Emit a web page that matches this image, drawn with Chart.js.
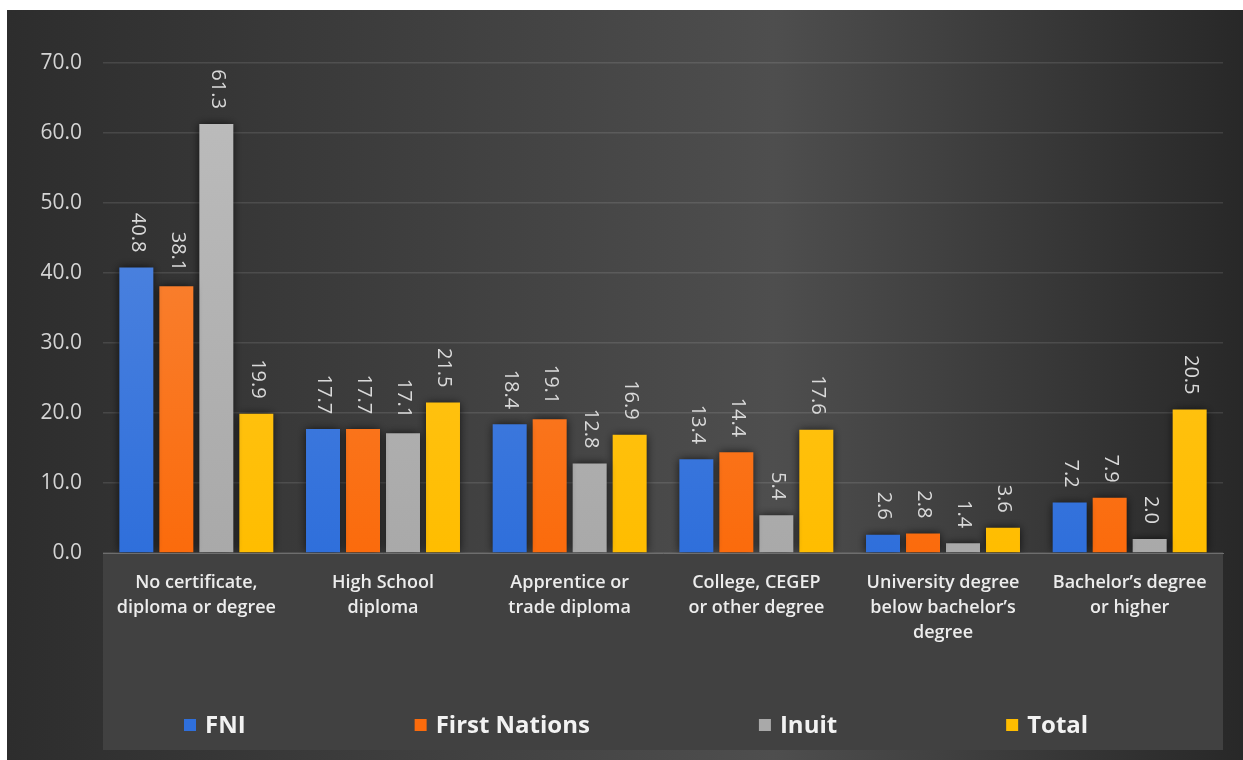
<!DOCTYPE html>
<html>
<head>
<meta charset="utf-8">
<script src="https://cdn.jsdelivr.net/npm/chart.js@4.4.0/dist/chart.umd.min.js"></script>
<style>
  html, body { margin: 0; padding: 0; background: #ffffff; }
  #wrap { position: absolute; left: 7px; top: 10px; width: 1236px; height: 750px; }
</style>
</head>
<body>
<div id="wrap"><canvas id="myChart"></canvas></div>
<script>
const categories = [
    ['No certificate,', 'diploma or degree'],
    ['High School', 'diploma'],
    ['Apprentice or', 'trade diploma'],
    ['College, CEGEP', 'or other degree'],
    ['University degree', 'below bachelor\u2019s', 'degree'],
    ['Bachelor\u2019s degree', 'or higher']
]
const seriesNames = ['FNI', 'First Nations', 'Inuit', 'Total']
const fniValues = [40.8, 17.7, 18.4, 13.4, 2.6, 7.2]
const firstNationsValues = [38.1, 17.7, 19.1, 14.4, 2.8, 7.9]
const inuitValues = [61.3, 17.1, 12.8, 5.4, 1.4, 2.0]
const totalValues = [19.9, 21.5, 16.9, 17.6, 3.6, 20.5]
const yTicks = [0, 10, 20, 30, 40, 50, 60, 70]

// top / bottom colours of each bar gradient
const barColors = [
    ['#5b8ce0', '#2f6fdb'],
    ['#f78c45', '#fb6b0c'],
    ['#bdbdbd', '#a9a9a9'],
    ['#ffc92e', '#ffbd00']
]

const gradientFill = idx => ctx => {
    const area = ctx.chart.chartArea
    if (!area) return barColors[idx][1]
    const g = ctx.chart.ctx.createLinearGradient(0, area.top, 0, area.bottom)
    g.addColorStop(0, barColors[idx][0])
    g.addColorStop(1, barColors[idx][1])
    return g
}

const background = {
    id: 'background',
    beforeDraw(chart) {
        const { ctx, width, height, chartArea } = chart
        ctx.save()
        const g = ctx.createLinearGradient(0, 0, width, 0)
        g.addColorStop(0, '#2d2d2d')
        g.addColorStop(0.62, '#4e4e4e')
        g.addColorStop(1, '#282828')
        ctx.fillStyle = g
        ctx.fillRect(0, 0, width, height)
        // lighter panel behind category labels and legend
        ctx.fillStyle = '#414141'
        ctx.fillRect(chartArea.left, chartArea.bottom, chartArea.right - chartArea.left, height - 10 - chartArea.bottom)
        ctx.restore()
    }
}

const barShadow = {
    id: 'barShadow',
    beforeDatasetsDraw(chart) {
        const ctx = chart.ctx
        ctx.save()
        ctx.shadowColor = 'rgba(0,0,0,0.75)'
        ctx.shadowBlur = 9
    },
    afterDatasetsDraw(chart) {
        chart.ctx.restore()
    }
}

const valueLabels = {
    id: 'valueLabels',
    afterDatasetsDraw(chart) {
        const ctx = chart.ctx
        ctx.save()
        ctx.font = '20px "Open Sans"'
        ctx.fillStyle = '#d9d9d9'
        ctx.textAlign = 'right'
        ctx.textBaseline = 'middle'
        chart.data.datasets.forEach((ds, i) => {
            chart.getDatasetMeta(i).data.forEach((bar, j) => {
                ctx.save()
                ctx.translate(bar.x + 1, bar.y - 15)
                ctx.rotate(Math.PI / 2)
                ctx.fillText(ds.data[j].toFixed(1), 0, 0)
                ctx.restore()
            })
        })
        ctx.restore()
    }
}

const bottomLegend = {
    id: 'bottomLegend',
    afterDraw(chart) {
        const ctx = chart.ctx
        const gap = 167
        let x = chart.chartArea.left + 79
        const y = 715
        ctx.save()
        ctx.font = 'bold 24px "Open Sans"'
        ctx.textBaseline = 'middle'
        ctx.textAlign = 'left'
        chart.data.datasets.forEach((ds, i) => {
            ctx.fillStyle = barColors[i][1]
            ctx.fillRect(x + 2, y - 6, 12, 12)
            ctx.fillStyle = '#f2f2f2'
            ctx.fillText(ds.label, x + 23, y + 1)
            x += 23 + ctx.measureText(ds.label).width + gap
        })
        ctx.restore()
    }
}

const allValues = [fniValues, firstNationsValues, inuitValues, totalValues]

let myChart = document.getElementById('myChart').getContext('2d')
let eduChart = new Chart(myChart, {
    type: 'bar',
    data: {
        labels: categories,
        datasets: seriesNames.map((name, i) => ({
            label: name,
            data: allValues[i],
            backgroundColor: gradientFill(i),
            borderWidth: 0,
            categoryPercentage: 0.857,
            barPercentage: 0.85
        }))
    },
    plugins: [background, barShadow, valueLabels, bottomLegend],
    options: {
        responsive: true,
        maintainAspectRatio: false,
        animation: false,
        layout: {
            padding: { left: 0, right: 20, top: 53, bottom: 0 }
        },
        plugins: {
            legend: { display: false },
            tooltip: { enabled: false }
        },
        scales: {
            x: {
                afterFit: s => { s.height = 207 },
                grid: { display: false },
                border: { display: true, color: '#6e6e6e', width: 1 },
                ticks: {
                    color: '#ececec',
                    padding: 9,
                    maxRotation: 0,
                    autoSkip: false,
                    font: { family: 'Open Sans', size: 18, weight: '600', lineHeight: 1.4 }
                }
            },
            y: {
                min: 0,
                max: 70,
                afterFit: s => { s.width = 96 },
                afterBuildTicks: s => { s.ticks = yTicks.map(v => ({ value: v })) },
                grid: { color: 'rgba(255,255,255,0.11)', lineWidth: 1.5, drawTicks: false },
                border: { display: false },
                ticks: {
                    color: '#d4d4d4',
                    padding: 21,
                    font: { family: 'Open Sans', size: 21 },
                    callback: v => v.toFixed(1)
                }
            }
        }
    }
})
</script>
</body>
</html>
